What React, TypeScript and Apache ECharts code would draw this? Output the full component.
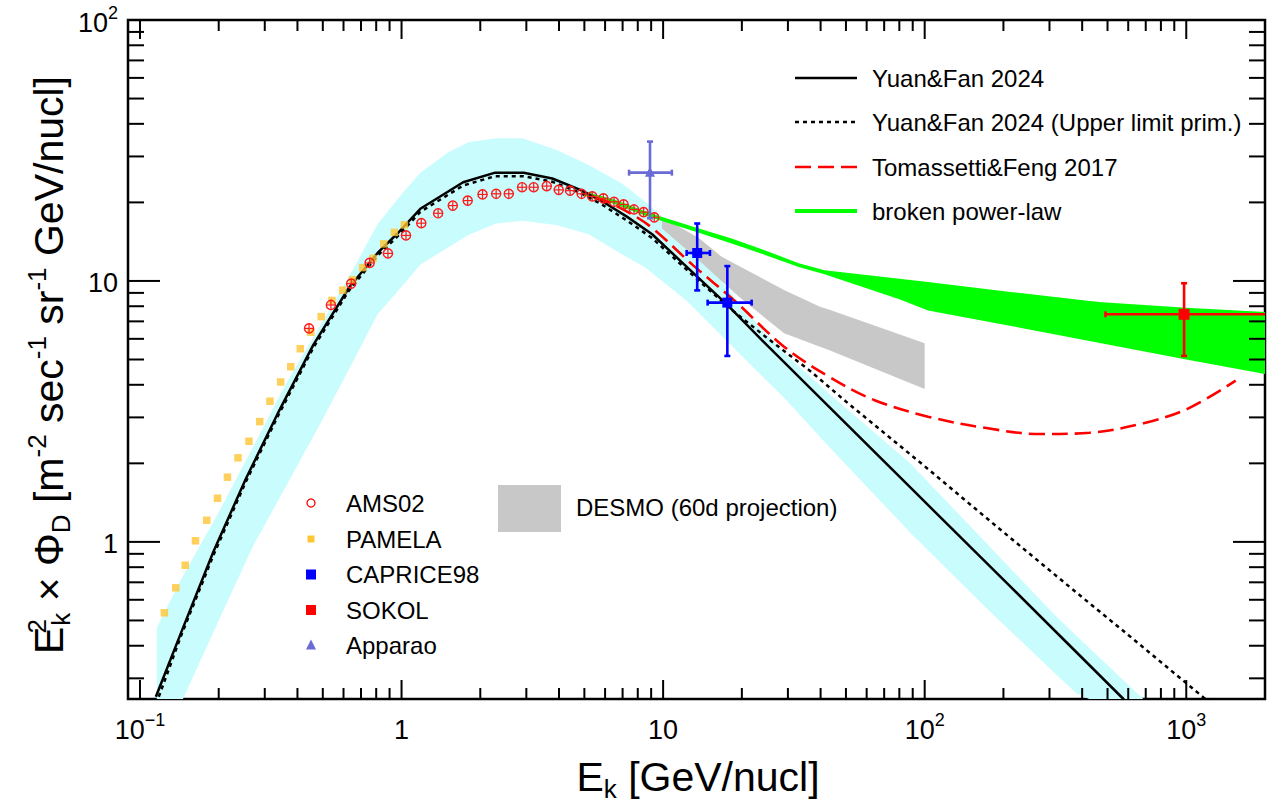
import React, { useEffect, useRef } from 'react';
import * as echarts from 'echarts';

const FONT = "'Liberation Sans', Arial, Helvetica, sans-serif";

// ---- axis ranges & ticks ----
const X_MIN = 0.09;
const X_MAX = 2000;
const Y_MIN = 0.25;
const Y_MAX = 100;
const xMajorTicks = [0.1, 1, 10, 100, 1000];
const xMinorTicks = [0.2, 0.3, 0.4, 0.5, 0.6, 0.7, 0.8, 0.9, 2, 3, 4, 5, 6, 7, 8, 9, 20, 30, 40, 50, 60, 70, 80, 90, 200, 300, 400, 500, 600, 700, 800, 900];
const yMajorTicks = [1, 10, 100];
const yMinorTicks = [0.3, 0.4, 0.5, 0.6, 0.7, 0.8, 0.9, 2, 3, 4, 5, 6, 7, 8, 9, 20, 30, 40, 50, 60, 70, 80, 90];

// ---- Yuan&Fan 2024 uncertainty band (cyan) ----
const bandE = [0.116, 0.146, 0.2, 0.27, 0.36, 0.5, 0.65, 0.81, 1.0, 1.18, 1.5, 1.8, 2.3, 2.9, 3.9, 5.2, 7.0, 8.5, 12.3, 21, 29, 43, 88, 172, 311, 380, 700];
const bandHi = [0.47, 0.74, 1.3, 2.3, 4.0, 7.0, 11.0, 16.5, 21.5, 26.0, 31.0, 34.0, 35.2, 35.2, 31.8, 27.8, 23.5, 20.2, 14.6, 7.5, 5.3, 3.7, 2.0, 0.99, 0.53, 0.437, 0.245];
const bandLo = [0.19, 0.25, 0.5, 0.96, 1.62, 2.96, 4.88, 7.45, 9.5, 11.55, 13.4, 15.0, 16.6, 17.0, 16.4, 15.1, 12.6, 11.3, 8.4, 4.91, 3.57, 2.32, 1.086, 0.558, 0.317, 0.263, 0.2];

// ---- DESMO (60d projection) band (grey) ----
const desmoE = [9.9, 13.7, 16.7, 19.5, 29, 39.8, 43, 100];
const desmoHi = [17.6, 14.6, 12.4, 11.4, 9.24, 7.97, 7.77, 5.77];
const desmoLo = [15.9, 12.0, 10.0, 8.7, 6.3, 5.6, 5.44, 3.85];

// ---- broken power-law band (green) ----
const bplE = [5.0, 6.5, 8.4, 9.7, 13.7, 18.4, 25, 33, 41.4, 80, 103, 209, 462, 1000, 2000];
const bplHi = [22.0, 20.5, 18.6, 17.7, 15.9, 14.5, 13.0, 11.7, 11.0, 10.2, 9.9, 9.1, 8.3, 7.9, 7.6];
const bplLo = [21.2, 19.7, 17.9, 17.1, 15.3, 13.9, 12.5, 11.3, 10.6, 8.5, 7.7, 6.75, 5.8, 5.0, 4.4];

// ---- model curves ----
const yfE = [0.115, 0.144, 0.191, 0.254, 0.336, 0.46, 0.63, 0.81, 0.977, 1.18, 1.72, 2.28, 2.93, 3.77, 4.85, 5.85, 7.29, 9.08, 12.0, 17.6, 23.8, 46.6, 95, 209, 564, 580];
const yfF = [0.255, 0.452, 0.919, 1.745, 3.1, 5.69, 9.44, 12.8, 15.4, 18.9, 23.9, 26.0, 26.0, 24.7, 22.3, 20.2, 17.6, 15.1, 11.6, 8.1, 5.94, 3.05, 1.5, 0.686, 0.255, 0.248];
const yfUlE = [0.118, 0.144, 0.191, 0.254, 0.336, 0.46, 0.63, 0.81, 0.977, 1.18, 1.72, 2.28, 2.93, 3.77, 4.85, 5.85, 7.29, 9.08, 12.0, 17.6, 24.7, 36.7, 50, 100, 141, 200, 380, 600, 1183, 1250];
const yfUlF = [0.255, 0.44, 0.89, 1.7, 3.02, 5.55, 9.2, 12.5, 15.0, 18.4, 23.2, 25.2, 25.2, 24.0, 21.7, 19.6, 17.0, 14.6, 11.3, 8.0, 6.1, 4.5, 3.45, 1.95, 1.46, 1.09, 0.64, 0.44, 0.25, 0.238];
const tfE = [5.5, 6.0, 7.6, 9.2, 13.0, 18.75, 29, 43, 64, 103, 172, 276, 427, 687, 1020, 1545];
const tfF = [20.8, 20.3, 18.0, 15.8, 11.5, 8.4, 5.6, 4.3, 3.5, 3.02, 2.73, 2.59, 2.62, 2.85, 3.25, 4.15];

// ---- data points ----
const amsE = [0.443, 0.537, 0.642, 0.755, 0.887, 1.04, 1.19, 1.38, 1.57, 1.79, 2.04, 2.3, 2.57, 2.89, 3.2, 3.59, 3.99, 4.41, 4.88, 5.36, 5.91, 6.49, 7.06, 7.74, 8.42, 9.25];
const amsF = [6.58, 8.09, 9.76, 11.72, 12.75, 14.94, 16.65, 18.17, 19.45, 20.32, 21.45, 21.58, 21.58, 22.86, 22.86, 23.1, 22.34, 22.18, 21.58, 21.09, 20.73, 20.11, 19.64, 18.79, 18.36, 17.51];
const pamE = [0.124, 0.137, 0.149, 0.163, 0.18, 0.198, 0.216, 0.237, 0.261, 0.287, 0.314, 0.345, 0.377, 0.41, 0.45, 0.493, 0.542, 0.596, 0.65, 0.71, 0.778, 0.855, 0.939, 1.025];
const pamF = [0.535, 0.667, 0.814, 1.01, 1.21, 1.47, 1.77, 2.1, 2.43, 2.89, 3.46, 4.1, 4.69, 5.5, 6.36, 7.3, 8.42, 9.22, 10.1, 11.25, 12.2, 13.87, 15.35, 16.4];
const capriceE = [13.5, 17.6];
const capriceF = [12.8, 8.26];
const capriceElo = [12.3, 14.8];
const capriceEhi = [15.1, 21.8];
const capriceFlo = [9.2, 5.16];
const capriceFhi = [16.6, 11.4];
const sokolE = [981];
const sokolF = [7.45];
const sokolElo = [491];
const sokolEhi = [2500];
const sokolFlo = [5.16];
const sokolFhi = [9.8];
const apparaoE = [8.91];
const apparaoF = [26.0];
const apparaoElo = [7.41];
const apparaoEhi = [10.8];
const apparaoFlo = [17.4];
const apparaoFhi = [34.2];

const zip = (a: number[], b: number[]) => a.map((v, i) => [v, b[i]]);

function bandSeries(name: string, E: number[], lo: number[], hi: number[], color: string, z: number) {
  return {
    type: 'custom',
    name,
    coordinateSystem: 'cartesian2d',
    clip: true,
    silent: true,
    z,
    data: E.map((e, i) => [e, lo[i], hi[i]]),
    encode: { x: 0, y: 1 },
    renderItem: (params: any, api: any) => {
      if (params.dataIndex !== 0) return null;
      const pts: number[][] = [];
      for (let i = 0; i < E.length; i++) pts.push(api.coord([E[i], hi[i]]));
      for (let i = E.length - 1; i >= 0; i--) pts.push(api.coord([E[i], lo[i]]));
      return { type: 'polygon', shape: { points: pts }, style: { fill: color, stroke: null } };
    },
  };
}

function errSeries(name: string, E: number[], F: number[], Elo: number[], Ehi: number[], Flo: number[], Fhi: number[], color: string, marker: string, size: number) {
  return {
    type: 'custom',
    name,
    coordinateSystem: 'cartesian2d',
    clip: true,
    silent: true,
    z: 12,
    data: E.map((e, i) => [e, F[i], Elo[i], Ehi[i], Flo[i], Fhi[i]]),
    encode: { x: 0, y: 1 },
    renderItem: (params: any, api: any) => {
      const e = api.value(0);
      const f = api.value(1);
      const c = api.coord([e, f]);
      const l = api.coord([api.value(2), f]);
      const r = api.coord([api.value(3), f]);
      const b = api.coord([e, api.value(4)]);
      const t = api.coord([e, api.value(5)]);
      const st = { stroke: color, lineWidth: 2.6 };
      const cap = 3;
      const children: any[] = [
        { type: 'line', shape: { x1: l[0], y1: c[1], x2: r[0], y2: c[1] }, style: st },
        { type: 'line', shape: { x1: c[0], y1: t[1], x2: c[0], y2: b[1] }, style: st },
        { type: 'line', shape: { x1: l[0], y1: c[1] - cap, x2: l[0], y2: c[1] + cap }, style: st },
        { type: 'line', shape: { x1: r[0], y1: c[1] - cap, x2: r[0], y2: c[1] + cap }, style: st },
        { type: 'line', shape: { x1: c[0] - cap, y1: t[1], x2: c[0] + cap, y2: t[1] }, style: st },
        { type: 'line', shape: { x1: c[0] - cap, y1: b[1], x2: c[0] + cap, y2: b[1] }, style: st },
      ];
      if (marker === 'rect') {
        children.push({ type: 'rect', shape: { x: c[0] - size / 2, y: c[1] - size / 2, width: size, height: size }, style: { fill: color } });
      } else {
        children.push({ type: 'polygon', shape: { points: [[c[0], c[1] - size * 0.6], [c[0] - size / 2, c[1] + size * 0.4], [c[0] + size / 2, c[1] + size * 0.4]] }, style: { fill: color } });
      }
      return { type: 'group', children };
    },
  };
}

const fmtPow = (v: number) => {
  const l = Math.log10(v);
  const r = Math.round(l);
  if (Math.abs(l - r) > 1e-6) return '';
  if (r === 0) return '{b|1}';
  if (r === 1) return '{b|10}';
  return `{b|10}{s|${r < 0 ? '\u2212' + -r : r}}`;
};

const tickRich = {
  b: { fontSize: 27, lineHeight: 32, fontFamily: FONT, color: '#000', verticalAlign: 'bottom' },
  s: { fontSize: 18, lineHeight: 18, fontFamily: FONT, color: '#000', verticalAlign: 'top' },
};

export default function App() {
  const ref = useRef<HTMLDivElement>(null);
  useEffect(() => {
    document.body.style.margin = '0';
    const chart = echarts.init(ref.current!, null, { renderer: 'svg' });

    const tickStyle = { stroke: '#000', lineWidth: 2 };
    const xTickData = [...xMajorTicks.map((v) => [v, 1, 1]), ...xMinorTicks.map((v) => [v, 1, 0])];
    const yTickData = [...yMajorTicks.map((v) => [1, v, 1]), ...yMinorTicks.map((v) => [1, v, 0])];

    const legendTop = [
      { y: 78, text: 'Yuan&Fan 2024', color: '#000', dash: null as any, w: 2.5 },
      { y: 122, text: 'Yuan&Fan 2024 (Upper limit prim.)', color: '#000', dash: [4, 4], w: 2.5 },
      { y: 167, text: 'Tomassetti&Feng 2017', color: '#ff0000', dash: [16, 7], w: 2.5 },
      { y: 211, text: 'broken power-law', color: '#00ff00', dash: null as any, w: 4 },
    ];
    const graphics: any[] = [];
    legendTop.forEach((r) => {
      graphics.push({ type: 'line', shape: { x1: 795, y1: r.y, x2: 857, y2: r.y }, style: { stroke: r.color, lineWidth: r.w, lineDash: r.dash } });
      graphics.push({ type: 'text', x: 872, y: r.y, style: { text: r.text, fontSize: 24, fontFamily: FONT, fill: '#000', align: 'left', verticalAlign: 'middle' } });
    });
    const legendBottom = [
      { y: 503, text: 'AMS02' },
      { y: 539, text: 'PAMELA' },
      { y: 574.5, text: 'CAPRICE98' },
      { y: 610, text: 'SOKOL' },
      { y: 645, text: 'Apparao' },
    ];
    legendBottom.forEach((r) => {
      graphics.push({ type: 'text', x: 346, y: r.y, style: { text: r.text, fontSize: 24, fontFamily: FONT, fill: '#000', align: 'left', verticalAlign: 'middle' } });
    });
    graphics.push({ type: 'circle', shape: { cx: 311, cy: 503, r: 4 }, style: { fill: 'none', stroke: '#ff0000', lineWidth: 1.3 } });
    graphics.push({ type: 'rect', shape: { x: 307.5, y: 535.5, width: 7, height: 7 }, style: { fill: '#ffc633' } });
    graphics.push({ type: 'rect', shape: { x: 306, y: 569.5, width: 10, height: 10 }, style: { fill: '#0000ff' } });
    graphics.push({ type: 'rect', shape: { x: 306, y: 605, width: 10, height: 10 }, style: { fill: '#ff0000' } });
    graphics.push({ type: 'polygon', shape: { points: [[311, 639.5], [306, 649.5], [316, 649.5]] }, style: { fill: '#6b6bd6' } });
    graphics.push({ type: 'rect', shape: { x: 498, y: 485, width: 63, height: 47 }, style: { fill: '#c8c8c8' } });
    graphics.push({ type: 'text', x: 576, y: 507, style: { text: 'DESMO (60d projection)', fontSize: 24, fontFamily: FONT, fill: '#000', align: 'left', verticalAlign: 'middle' } });

    // axis titles
    graphics.push({
      type: 'text', x: 698, y: 777,
      style: {
        text: '{m|E}{b|k}{m| [GeV/nucl]}', align: 'center', verticalAlign: 'middle',
        rich: {
          m: { fontSize: 41, lineHeight: 50, fontFamily: FONT, fill: '#000' },
          b: { fontSize: 26, lineHeight: 26, fontFamily: FONT, fill: '#000', verticalAlign: 'bottom' },
        },
      },
    });
    graphics.push({
      type: 'text', x: 49, y: 365, rotation: Math.PI / 2,
      style: {
        text: '{m|E}{q|2}{b|k}{m| \u00d7 \u03a6}{b|D}{m| [m}{p|-2}{m| sec}{p|-1}{m| sr}{p|-1}{m| GeV/nucl]}',
        align: 'center', verticalAlign: 'middle',
        rich: {
          m: { fontSize: 41, lineHeight: 50, fontFamily: FONT, fill: '#000' },
          p: { fontSize: 26, lineHeight: 26, fontFamily: FONT, fill: '#000', verticalAlign: 'top' },
          q: { fontSize: 26, lineHeight: 26, fontFamily: FONT, fill: '#000', verticalAlign: 'top', width: 1 },
          b: { fontSize: 26, lineHeight: 26, fontFamily: FONT, fill: '#000', verticalAlign: 'bottom' },
        },
      },
    });

    const option: any = {
      animation: false,
      backgroundColor: '#fff',
      grid: { left: 128, top: 20, right: 2, bottom: 109, show: true, borderColor: '#000', borderWidth: 2.5, backgroundColor: 'transparent', outerBoundsMode: 'none' },
      xAxis: {
        type: 'log', logBase: 10, min: X_MIN, max: X_MAX,
        axisLine: { show: false }, axisTick: { show: false }, splitLine: { show: false }, minorTick: { show: false },
        axisLabel: { margin: 12, formatter: fmtPow, rich: tickRich, color: '#000', showMinLabel: true, showMaxLabel: true, hideOverlap: false },
      },
      yAxis: {
        type: 'log', logBase: 10, min: Y_MIN, max: Y_MAX,
        axisLine: { show: false }, axisTick: { show: false }, splitLine: { show: false }, minorTick: { show: false },
        axisLabel: { margin: 10, formatter: fmtPow, rich: tickRich, color: '#000', showMinLabel: true, showMaxLabel: true, hideOverlap: false },
      },
      graphic: graphics,
      series: [
        bandSeries('Yuan&Fan 2024 band', bandE, bandLo, bandHi, '#c9fcfc', 1),
        bandSeries('DESMO (60d projection)', desmoE, desmoLo, desmoHi, '#c8c8c8', 2),
        bandSeries('broken power-law', bplE, bplLo, bplHi, '#00ff00', 3),
        {
          type: 'line', name: 'Yuan&Fan 2024', data: zip(yfE, yfF), symbol: 'none', showSymbol: false, clip: true, silent: true, z: 5,
          lineStyle: { color: '#000', width: 2.5 },
        },
        {
          type: 'line', name: 'Yuan&Fan 2024 (Upper limit prim.)', data: zip(yfUlE, yfUlF), symbol: 'none', showSymbol: false, clip: true, silent: true, z: 5,
          lineStyle: { color: '#000', width: 2.5, type: [4, 4] },
        },
        {
          type: 'line', name: 'Tomassetti&Feng 2017', data: zip(tfE, tfF), symbol: 'none', showSymbol: false, clip: true, silent: true, z: 6,
          smooth: 0.35,
          lineStyle: { color: '#ff0000', width: 2.6, type: [16, 7] },
        },
        {
          type: 'scatter', name: 'PAMELA', data: zip(pamE, pamF), symbol: 'rect', symbolSize: 7.5, silent: true, z: 8,
          itemStyle: { color: '#ffc633' },
        },
        {
          type: 'custom', name: 'AMS02', coordinateSystem: 'cartesian2d', clip: true, silent: true, z: 9,
          data: zip(amsE, amsF), encode: { x: 0, y: 1 },
          renderItem: (params: any, api: any) => {
            const c = api.coord([api.value(0), api.value(1)]);
            const r = 4.6;
            const st = { stroke: '#ff1a1a', lineWidth: 1.2 };
            return {
              type: 'group',
              children: [
                { type: 'circle', shape: { cx: c[0], cy: c[1], r }, style: { fill: 'none', stroke: '#ff1a1a', lineWidth: 1.4 } },
                { type: 'line', shape: { x1: c[0] - r, y1: c[1], x2: c[0] + r, y2: c[1] }, style: st },
                { type: 'line', shape: { x1: c[0], y1: c[1] - r, x2: c[0], y2: c[1] + r }, style: st },
              ],
            };
          },
        },
        errSeries('CAPRICE98', capriceE, capriceF, capriceElo, capriceEhi, capriceFlo, capriceFhi, '#0000ff', 'rect', 10),
        errSeries('SOKOL', sokolE, sokolF, sokolElo, sokolEhi, sokolFlo, sokolFhi, '#ff0000', 'rect', 11),
        errSeries('Apparao', apparaoE, apparaoF, apparaoElo, apparaoEhi, apparaoFlo, apparaoFhi, '#6b6bd6', 'tri', 10),
        {
          type: 'custom', name: 'xticks', coordinateSystem: 'cartesian2d', clip: false, silent: true, z: 20,
          data: xTickData, encode: { x: 0, y: 1 },
          renderItem: (params: any, api: any) => {
            const cs = params.coordSys;
            const px = api.coord([api.value(0), 1])[0];
            const len = api.value(2) ? 19 : 11;
            const bot = cs.y + cs.height;
            const top = cs.y;
            return {
              type: 'group',
              children: [
                { type: 'line', shape: { x1: px, y1: bot, x2: px, y2: bot - len }, style: tickStyle },
                { type: 'line', shape: { x1: px, y1: top, x2: px, y2: top + len }, style: tickStyle },
              ],
            };
          },
        },
        {
          type: 'custom', name: 'yticks', coordinateSystem: 'cartesian2d', clip: false, silent: true, z: 20,
          data: yTickData, encode: { x: 0, y: 1 },
          renderItem: (params: any, api: any) => {
            const cs = params.coordSys;
            const py = api.coord([1, api.value(1)])[1];
            const len = api.value(2) ? 32 : 16;
            const left = cs.x;
            const right = cs.x + cs.width;
            return {
              type: 'group',
              children: [
                { type: 'line', shape: { x1: left, y1: py, x2: left + len, y2: py }, style: tickStyle },
                { type: 'line', shape: { x1: right, y1: py, x2: right - len, y2: py }, style: tickStyle },
              ],
            };
          },
        },
      ],
    };
    chart.setOption(option);
    return () => chart.dispose();
  }, []);
  return <div ref={ref} style={{ width: 1267, height: 808, background: '#fff' }} />;
}
